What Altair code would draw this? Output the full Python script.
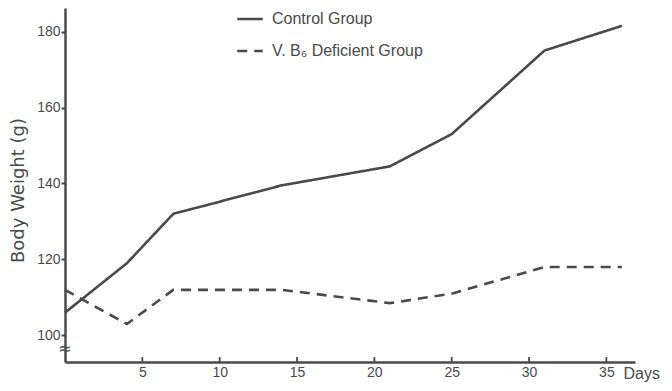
import altair as alt
import pandas as pd

days = [0, 4, 7, 14, 21, 25, 31, 36]
control = [106, 119, 132, 139.5, 144.5, 153, 175, 181.5]
deficient = [112, 103, 112, 112, 108.5, 111, 118, 118]
series_names = ["Control Group", "V. B\u2086 Deficient Group"]
x_ticks = [5, 10, 15, 20, 25, 30, 35]
y_ticks = [100, 120, 140, 160, 180]

INK = "#4a4a4a"
FONT = "Liberation Sans"

rows = []
for d, c, v in zip(days, control, deficient):
    rows.append({"day": d, "weight": c, "group": series_names[0]})
    rows.append({"day": d, "weight": v, "group": series_names[1]})
df = pd.DataFrame(rows)

xscale = alt.Scale(domain=[0, 36.85], nice=False, zero=False)
yscale = alt.Scale(domain=[93, 186.2], nice=False, zero=False)

lines = alt.Chart(df).mark_line(color=INK, strokeWidth=2.6).encode(
    x=alt.X("day:Q", scale=xscale,
            axis=alt.Axis(values=x_ticks, title="Days", titleX=558, titleY=11,
                          titleAlign="left", titleBaseline="middle",
                          titleFont=FONT, titleFontSize=16, titleFontWeight="normal",
                          titleColor=INK, labelFont=FONT, labelFontSize=14,
                          labelColor=INK, labelPadding=3, ticks=False,
                          domainColor=INK, domainWidth=2.5, grid=False)),
    y=alt.Y("weight:Q", scale=yscale,
            axis=alt.Axis(values=y_ticks, title="Body Weight (g)",
                          titleFont="DejaVu Sans", titleFontSize=18,
                          titleFontWeight="normal", titleColor=INK,
                          titleX=-47, titleY=182, titleAlign="center",
                          titleBaseline="middle",
                          labelFont=FONT, labelFontSize=14, labelColor=INK,
                          tickSize=4, tickColor=INK, tickWidth=2, labelPadding=1,
                          domainColor=INK, domainWidth=2.5, grid=False)),
    strokeDash=alt.StrokeDash("group:N",
        scale=alt.Scale(domain=series_names, range=[[1, 0], [10, 7]]),
        legend=alt.Legend(title=None, orient="none", legendX=171, legendY=-3,
                          direction="vertical", symbolType="stroke",
                          symbolSize=650, symbolStrokeWidth=2.4,
                          symbolStrokeColor=INK, labelFont=FONT,
                          labelFontSize=16, labelColor=INK, labelOffset=8,
                          rowPadding=10)),
)

tick_df = pd.DataFrame({"day": x_ticks, "lo": [93.0] * len(x_ticks),
                        "hi": [94.3] * len(x_ticks)})
ticks = alt.Chart(tick_df).mark_rule(color=INK, strokeWidth=1.8).encode(
    x=alt.X("day:Q", scale=xscale),
    y=alt.Y("lo:Q", scale=yscale),
    y2="hi:Q",
)

brk_df = pd.DataFrame({"day": [0], "weight": [96.3], "t": ["\u2248"]})
brk = alt.Chart(brk_df).mark_text(color=INK, fontSize=16, font="DejaVu Sans").encode(
    x=alt.X("day:Q", scale=xscale),
    y=alt.Y("weight:Q", scale=yscale),
    text="t:N",
)

chart = alt.layer(lines, ticks, brk).properties(
    width=570, height=354,
    padding={"left": 57, "top": 0, "right": 29, "bottom": 20},
    autosize=alt.AutoSizeParams(type="none"),
).configure_view(stroke=None)

chart.save("out.html", embed_options={"renderer": "svg", "actions": False})
